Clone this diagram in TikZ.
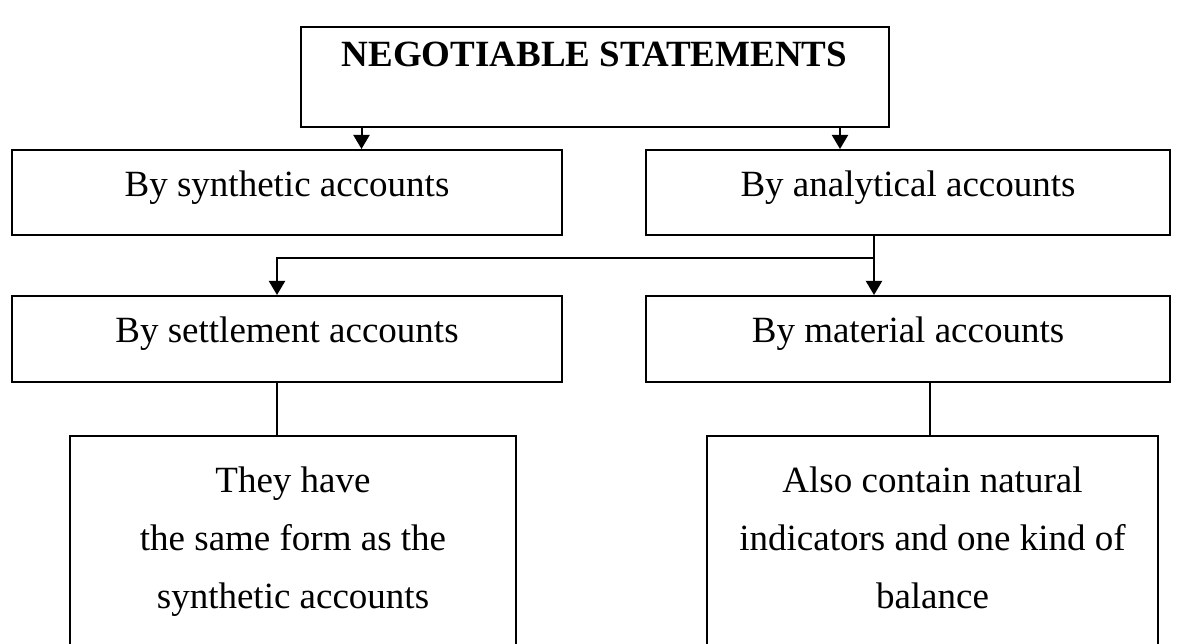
\documentclass[tikz,border=0pt]{standalone}
\usepackage{fontspec}
\setmainfont{Liberation Serif}
\usetikzlibrary{arrows.meta}
\begin{document}
\begin{tikzpicture}[x=1pt,y=-1pt,
  box/.style={draw, line width=2pt, inner sep=0pt, text height=25pt, text depth=17pt,
              font=\fontsize{37}{44}\selectfont},
  tallbox/.style={draw, line width=1.6pt, inner sep=0pt, anchor=north},
  bodytext/.style={anchor=north, align=center, inner sep=0pt, font=\fontsize{37}{58}\selectfont},
  conn/.style={line width=2pt},
  thinconn/.style={line width=1.6pt},
  arr/.style={conn, -{Triangle[length=14pt,width=16pt]}}]
\useasboundingbox (0,0) rectangle (1184,644);
\clip (0,0) rectangle (1184,644);

% title box, text set in the upper part
\node[box, minimum width=588pt, minimum height=100pt, text height=25pt, text depth=45pt,
      font=\bfseries\fontsize{37}{44}\selectfont] (top) at (594.5,77) {NEGOTIABLE STATEMENTS};

% second row
\node[box, minimum width=550pt, minimum height=85pt] (syn) at (287,192.5) {By synthetic accounts};
\node[box, minimum width=524pt, minimum height=85pt] (ana) at (908,192.5) {By analytical accounts};

% third row
\node[box, minimum width=550pt, minimum height=86pt] (set) at (287,339) {By settlement accounts};
\node[box, minimum width=524pt, minimum height=86pt] (mat) at (908,339) {By material accounts};

% bottom boxes (run past the lower edge)
\node[tallbox, minimum width=446pt, minimum height=260pt] (bl) at (293,435) {};
\node[tallbox, minimum width=451pt, minimum height=260pt] (br) at (932.5,435) {};
\node[bodytext] (blt) at (293,466.7) {They have\\the same form as the\\synthetic accounts};
\node[bodytext] (brt) at (932.5,466.7) {Also contain natural\\indicators and one kind of\\balance};

% connector positions
\coordinate (xl) at (361.5,0);
\coordinate (xr) at (840,0);
\coordinate (j) at (874,258);
\coordinate (k) at (277,258);
\coordinate (xm) at (930,0);

\draw[arr] (top.south -| xl) -- (syn.north -| xl);
\draw[arr] (top.south -| xr) -- (ana.north -| xr);
\draw[conn] (ana.south -| j) -- (j);
\draw[arr] (j) -- (mat.north -| j);
\draw[arr] (j) -- (k) -- (set.north -| k);
\draw[thinconn] (set.south -| k) -- (bl.north -| k);
\draw[thinconn] (mat.south -| xm) -- (br.north -| xm);
\end{tikzpicture}
\end{document}
